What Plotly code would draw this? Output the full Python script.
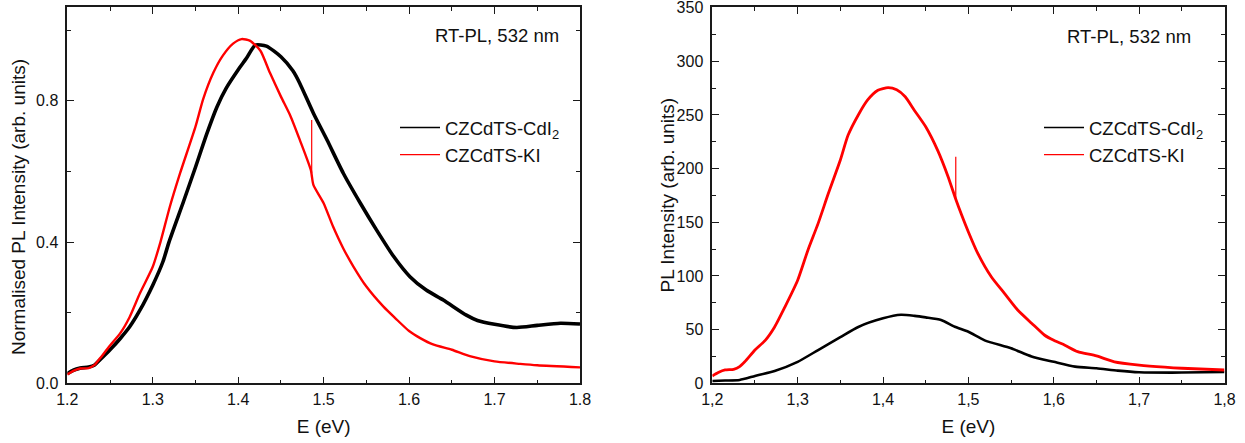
import plotly.graph_objects as go

# ---------------- data ----------------
# Left panel: normalised PL
E_L_CDI2 = [1.200, 1.207, 1.215, 1.225, 1.232, 1.238, 1.250, 1.262, 1.273, 1.285,
            1.300, 1.312, 1.319, 1.336, 1.350, 1.363, 1.375, 1.386, 1.400, 1.410,
            1.420, 1.433, 1.450, 1.464, 1.472, 1.488, 1.504, 1.523, 1.543, 1.562,
            1.582, 1.601, 1.620, 1.640, 1.667, 1.680, 1.700, 1.726, 1.750, 1.777, 1.800]
Y_L_CDI2 = [0.027, 0.037, 0.043, 0.046, 0.052, 0.066, 0.095, 0.127, 0.160, 0.207,
            0.278, 0.345, 0.400, 0.515, 0.612, 0.705, 0.782, 0.836, 0.888, 0.922,
            0.958, 0.955, 0.925, 0.885, 0.850, 0.765, 0.689, 0.595, 0.510, 0.434,
            0.359, 0.302, 0.264, 0.236, 0.193, 0.178, 0.167, 0.158, 0.164, 0.170, 0.168]

E_L_KI = [1.200, 1.207, 1.215, 1.225, 1.232, 1.238, 1.250, 1.262, 1.273, 1.285,
          1.300, 1.309, 1.320, 1.332, 1.350, 1.359, 1.371, 1.382, 1.394, 1.404,
          1.414, 1.426, 1.437, 1.450, 1.461, 1.472, 1.485, 1.488, 1.500, 1.511,
          1.523, 1.535, 1.550, 1.570, 1.584, 1.600, 1.613, 1.628, 1.650,
          1.671, 1.700, 1.730, 1.750, 1.800]
Y_L_KI = [0.025, 0.035, 0.042, 0.043, 0.052, 0.070, 0.107, 0.142, 0.188, 0.255,
          0.330, 0.400, 0.500, 0.595, 0.727, 0.805, 0.880, 0.928, 0.962, 0.975,
          0.970, 0.942, 0.880, 0.812, 0.758, 0.690, 0.604, 0.562, 0.510, 0.444,
          0.382, 0.330, 0.274, 0.217, 0.184, 0.148, 0.128, 0.110, 0.095,
          0.077, 0.062, 0.055, 0.051, 0.045]
SPIKE_L_E = [1.4860, 1.4860]
SPIKE_L_Y = [0.595, 0.746]

# Right panel: absolute PL intensity
E_R_CDI2 = [1.200, 1.215, 1.232, 1.250, 1.273, 1.300, 1.324, 1.350, 1.371, 1.400,
            1.421, 1.437, 1.450, 1.468, 1.484, 1.500, 1.519, 1.550, 1.574, 1.600,
            1.625, 1.650, 1.675, 1.700, 1.750, 1.800]
Y_R_CDI2 = [2.2, 2.6, 3.1, 6.8, 11.5, 20.0, 31.0, 43.0, 52.5, 60.5,
            63.8, 62.8, 61.4, 59.0, 52.7, 48.0, 40.0, 32.6, 25.0, 20.0,
            15.5, 14.0, 11.8, 10.3, 10.0, 10.5]

E_R_KI = [1.200, 1.207, 1.215, 1.225, 1.232, 1.238, 1.250, 1.262, 1.273, 1.285,
          1.300, 1.312, 1.324, 1.336, 1.350, 1.359, 1.371, 1.382, 1.394, 1.406,
          1.416, 1.426, 1.437, 1.450, 1.464, 1.476, 1.485, 1.492, 1.500, 1.511,
          1.527, 1.542, 1.558, 1.574, 1.589, 1.600, 1.613, 1.628, 1.650, 1.671,
          1.700, 1.730, 1.750, 1.800]
Y_R_KI = [6.8, 10.0, 12.4, 13.0, 15.5, 20.0, 31.0, 40.0, 52.5, 71.0,
          96.0, 124.0, 149.0, 177.0, 208.0, 231.0, 250.0, 264.0, 273.0, 275.5,
          273.5, 267.0, 254.0, 239.0, 217.0, 193.0, 172.0, 157.0, 141.0, 121.0,
          99.0, 84.0, 68.0, 56.0, 45.0, 40.0, 35.5, 29.5, 25.5, 20.0,
          17.0, 15.0, 14.0, 12.4]
SPIKE_R_E = [1.4852, 1.4852]
SPIKE_R_Y = [170.0, 211.0]

X_TICKS = [1.2, 1.3, 1.4, 1.5, 1.6, 1.7, 1.8]
X_TICKTEXT_LEFT = ["1.2", "1.3", "1.4", "1.5", "1.6", "1.7", "1.8"]
X_TICKTEXT_RIGHT = ["1,2", "1,3", "1,4", "1,5", "1,6", "1,7", "1,8"]
Y_TICKS_LEFT = [0.0, 0.4, 0.8]
Y_MINOR_LEFT = [0.2, 0.6, 1.0]
Y_TICKS_RIGHT = [0, 50, 100, 150, 200, 250, 300, 350]

NAME_CDI2 = "CZCdTS-CdI<sub>2</sub>"
NAME_KI = "CZCdTS-KI"
ANNOT = "RT-PL, 532 nm"
XTITLE = "E (eV)"
YTITLE_LEFT = "Normalised PL Intensity (arb. units)"
YTITLE_RIGHT = "PL Intensity (arb. units)"

# ---------------- figure ----------------
W, H = 1245, 443
FONT = "Liberation Sans, Arial, sans-serif"
BLACK = "#000000"
RED = "#ff0000"
AX = "#1a1a1a"
TXT = "#111111"


def px_x(p):
    return p / W


def px_y(p):
    return 1 - p / H


fig = go.Figure()

# data curves (legend entries drawn with thin sample lines below)
fig.add_trace(go.Scatter(x=E_L_CDI2, y=Y_L_CDI2, mode="lines", name=NAME_CDI2, showlegend=False,
                         line=dict(color=BLACK, width=3.6, shape="spline", smoothing=0.6),
                         xaxis="x", yaxis="y"))
fig.add_trace(go.Scatter(x=E_L_KI, y=Y_L_KI, mode="lines", name=NAME_KI, showlegend=False,
                         line=dict(color=RED, width=2.4, shape="spline", smoothing=0.6),
                         xaxis="x", yaxis="y"))
fig.add_trace(go.Scatter(x=SPIKE_L_E, y=SPIKE_L_Y, mode="lines", showlegend=False,
                         line=dict(color=RED, width=1.2), xaxis="x", yaxis="y"))

fig.add_trace(go.Scatter(x=E_R_CDI2, y=Y_R_CDI2, mode="lines", name=NAME_CDI2, showlegend=False,
                         line=dict(color=BLACK, width=2.6, shape="spline", smoothing=0.6),
                         xaxis="x2", yaxis="y2"))
fig.add_trace(go.Scatter(x=E_R_KI, y=Y_R_KI, mode="lines", name=NAME_KI, showlegend=False,
                         line=dict(color=RED, width=2.8, shape="spline", smoothing=0.6),
                         xaxis="x2", yaxis="y2"))
fig.add_trace(go.Scatter(x=SPIKE_R_E, y=SPIKE_R_Y, mode="lines", showlegend=False,
                         line=dict(color=RED, width=1.2), xaxis="x2", yaxis="y2"))

# legend entries (thin line samples, as in the reference)
for nm, col, xa, ya, lg in [(NAME_CDI2, BLACK, "x", "y", "legend"),
                            (NAME_KI, RED, "x", "y", "legend"),
                            (NAME_CDI2, BLACK, "x2", "y2", "legend2"),
                            (NAME_KI, RED, "x2", "y2", "legend2")]:
    fig.add_trace(go.Scatter(x=[None], y=[None], mode="lines", name=nm,
                             line=dict(color=col, width=1.4),
                             xaxis=xa, yaxis=ya, legend=lg, showlegend=True))

ydom = [px_y(383.3), px_y(7.3)]

common_axis = dict(
    showline=True, linecolor=AX, linewidth=1.6, mirror="allticks",
    ticks="inside", ticklen=7, tickwidth=1.4, tickcolor=AX,
    showgrid=False, zeroline=False, automargin=False, ticklabeloverflow="allow",
    tickfont=dict(family=FONT, size=16, color=TXT),
)
minor_x = dict(dtick=0.05, ticks="inside", ticklen=4, tickwidth=1.2, tickcolor=AX, showgrid=False)
TITLE_FONT = dict(family=FONT, size=19, color=TXT)

fig.update_layout(
    width=W, height=H,
    margin=dict(l=0, r=0, t=0, b=0),
    paper_bgcolor="white", plot_bgcolor="white",
    font=dict(family=FONT, color=TXT),
    xaxis=dict(domain=[px_x(67.3), px_x(580.0)], range=[1.2, 1.8], anchor="y",
               tickvals=X_TICKS, ticktext=X_TICKTEXT_LEFT, minor=minor_x, ticklabelstandoff=1,
               title=dict(text=XTITLE, standoff=12, font=TITLE_FONT), **common_axis),
    yaxis=dict(domain=ydom, range=[0, 1.065], anchor="x",
               tickvals=Y_TICKS_LEFT, tickformat=".1f", ticklabelstandoff=4,
               minor=dict(tickvals=Y_MINOR_LEFT, ticks="inside", ticklen=4, tickwidth=1.2,
                          tickcolor=AX, showgrid=False),
               **common_axis),
    xaxis2=dict(domain=[px_x(712.3), px_x(1224.5)], range=[1.2, 1.8], anchor="y2",
                tickvals=X_TICKS, ticktext=X_TICKTEXT_RIGHT, minor=minor_x, ticklabelstandoff=1,
                title=dict(text=XTITLE, standoff=12, font=TITLE_FONT), **common_axis),
    yaxis2=dict(domain=ydom, range=[0, 350.3], anchor="x2",
                tickvals=Y_TICKS_RIGHT, ticklabelstandoff=4,
                minor=dict(dtick=25, ticks="inside", ticklen=4, tickwidth=1.2,
                           tickcolor=AX, showgrid=False),
                **common_axis),
    legend=dict(x=px_x(395), y=px_y(109), xanchor="left", yanchor="top",
                bgcolor="rgba(0,0,0,0)", borderwidth=0,
                font=dict(family=FONT, size=18.5, color=TXT), itemwidth=40,
                tracegroupgap=0),
    legend2=dict(x=px_x(1039), y=px_y(109), xanchor="left", yanchor="top",
                 bgcolor="rgba(0,0,0,0)", borderwidth=0,
                 font=dict(family=FONT, size=18.5, color=TXT), itemwidth=40,
                 tracegroupgap=0),
    showlegend=True,
)

# y-axis titles (placed as in the reference)
fig.add_annotation(x=px_x(19), y=px_y(207), xref="paper", yref="paper", text=YTITLE_LEFT,
                   textangle=-90, showarrow=False, font=TITLE_FONT,
                   xanchor="center", yanchor="middle")
fig.add_annotation(x=px_x(666.5), y=px_y(195), xref="paper", yref="paper", text=YTITLE_RIGHT,
                   textangle=-90, showarrow=False, font=TITLE_FONT,
                   xanchor="center", yanchor="middle")

fig.add_annotation(x=1.703, y=0.986, xref="x", yref="y", text=ANNOT, showarrow=False,
                   font=dict(family=FONT, size=18.5, color=TXT), xanchor="center", yanchor="middle")
fig.add_annotation(x=1.688, y=323.5, xref="x2", yref="y2", text=ANNOT, showarrow=False,
                   font=dict(family=FONT, size=18.5, color=TXT), xanchor="center", yanchor="middle")

fig.write_html("out.html")
